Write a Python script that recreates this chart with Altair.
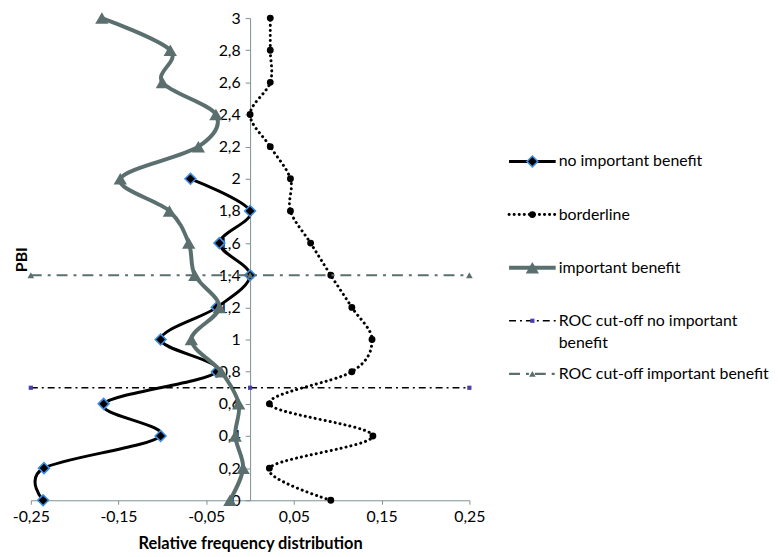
import altair as alt
import pandas as pd

# ---------------- data ----------------
pbi_nib = [0, 0.2, 0.4, 0.6, 0.8, 1.0, 1.2, 1.4, 1.6, 1.8, 2.0]
freq_nib = [-0.236, -0.235, -0.102, -0.167, -0.038, -0.102, -0.038, 0.0, -0.035, 0.0, -0.068]

pbi_all = [0, 0.2, 0.4, 0.6, 0.8, 1.0, 1.2, 1.4, 1.6, 1.8, 2.0, 2.2, 2.4, 2.6, 2.8, 3.0]
freq_border = [0.092, 0.022, 0.140, 0.022, 0.116, 0.139, 0.116, 0.092, 0.069, 0.046,
               0.046, 0.023, 0.0, 0.023, 0.023, 0.023]
freq_ib = [-0.023, -0.008, -0.017, -0.013, -0.033, -0.067, -0.035, -0.063, -0.070, -0.092,
           -0.148, -0.059, -0.039, -0.100, -0.091, -0.169]

roc_x = [-0.25, 0.0, 0.25]
roc_cut_nib = 0.7
roc_cut_ib = 1.4

x_ticks = [-0.25, -0.15, -0.05, 0.05, 0.15, 0.25]
y_ticks = [0, 0.2, 0.4, 0.6, 0.8, 1.0, 1.2, 1.4, 1.6, 1.8, 2.0, 2.2, 2.4, 2.6, 2.8, 3.0]

legend_labels = [
    "no important benefit",
    "borderline",
    "important benefit",
    "ROC cut-off no important\nbenefit",
    "ROC cut-off important benefit",
]

# ---------------- styling ----------------
W, H = 442, 486
FONT = "Lato"
AXIS_COLOR = "#7f9090"
GREY = "#5b6f6f"
BLUE = "#3d8fe6"
PURPLE = "#4a3fb0"

x_axis = alt.Axis(
    values=x_ticks, grid=False, domainColor=AXIS_COLOR, tickColor=AXIS_COLOR,
    tickSize=4, labelFontSize=16, labelColor="black", labelFlush=False,
    labelOverlap=False, labelPadding=4, title="Relative frequency distribution",
    titleFontSize=16.5, titleFontWeight="bold", titleColor="black", titlePadding=12,
    labelExpr="replace(replace(format(datum.value, '.2f'), '.', ','), '\u2212', '-')",
)
y_axis = alt.Axis(
    values=y_ticks, grid=False, domainColor=AXIS_COLOR, tickColor=AXIS_COLOR,
    tickSize=5, labelFontSize=16, labelColor="black", labelFlush=False,
    labelOverlap=False, labelPadding=5, offset=-W / 2,
    title="PBI", titleFontSize=16, titleFontWeight="bold", titleColor="black",
    titleX=-W / 2 - 9, titleY=H / 2, titleAlign="center", titleBaseline="middle",
    titleAngle=-90,
    labelExpr="replace(format(datum.value, '.1~f'), '.', ',')",
)
x_scale = alt.Scale(domain=[-0.25, 0.25], nice=False, zero=False)
y_scale = alt.Scale(domain=[0, 3], nice=False, zero=False)


def X():
    return alt.X("freq:Q", scale=x_scale, axis=x_axis)


def Y():
    return alt.Y("pbi:Q", scale=y_scale, axis=y_axis)


df_nib = pd.DataFrame({"pbi": pbi_nib, "freq": freq_nib})
df_border = pd.DataFrame({"pbi": pbi_all, "freq": freq_border})
df_ib = pd.DataFrame({"pbi": pbi_all, "freq": freq_ib})
df_roc_nib = pd.DataFrame({"freq": roc_x, "pbi": [roc_cut_nib] * len(roc_x)})
df_roc_ib = pd.DataFrame({"freq": roc_x, "pbi": [roc_cut_ib] * len(roc_x)})

styles = [
    dict(line=dict(color="black", strokeWidth=3, interpolate="cardinal"),
         point=dict(shape="diamond", size=120, fill="black", stroke=BLUE, strokeWidth=1.6)),
    dict(line=dict(color="black", strokeWidth=3, strokeDash=[0.1, 5], strokeCap="round",
                   interpolate="cardinal"),
         point=dict(shape="circle", size=48, fill="black", stroke="black", strokeWidth=0)),
    dict(line=dict(color=GREY, strokeWidth=4, interpolate="cardinal"),
         point=dict(shape="triangle-up", size=180, fill=GREY, stroke=GREY, strokeWidth=0)),
    dict(line=dict(color="black", strokeWidth=1.6, strokeDash=[7, 4, 2, 4]),
         point=dict(shape="square", size=18, fill=PURPLE, stroke=PURPLE, strokeWidth=0)),
    dict(line=dict(color=GREY, strokeWidth=2.2, strokeDash=[11, 6, 3, 6]),
         point=dict(shape="triangle-up", size=45, fill=GREY, stroke=GREY, strokeWidth=0)),
]
frames = [df_nib, df_border, df_ib, df_roc_nib, df_roc_ib]

layers = []
for df, st in zip(frames, styles):
    layers.append(
        alt.Chart(df).mark_line(**st["line"]).encode(x=X(), y=Y(), order=alt.Order("pbi:Q"))
    )
    layers.append(
        alt.Chart(df).mark_point(filled=True, opacity=1, fillOpacity=1, strokeOpacity=1,
                                 **st["point"]).encode(x=X(), y=Y())
    )

main = alt.layer(*layers).properties(width=W, height=H)

# ---------------- legend panel ----------------
leg_df = pd.DataFrame({
    "row": list(range(len(legend_labels))),
    "label": legend_labels,
    "x0": [0.0] * len(legend_labels),
    "x1": [1.0] * len(legend_labels),
    "xm": [0.5] * len(legend_labels),
})
lx = alt.Scale(domain=[0, 1], nice=False, zero=False)
ly = alt.Scale(domain=[-2.70, 6.38], nice=False, zero=False, reverse=True)

leg_layers = []
for i, st in enumerate(styles):
    sub = leg_df[leg_df["row"] == i]
    line_kw = {k: v for k, v in st["line"].items() if k != "interpolate"}
    leg_layers.append(
        alt.Chart(sub).mark_rule(**line_kw).encode(
            x=alt.X("x0:Q", scale=lx, axis=None), x2="x1:Q",
            y=alt.Y("row:Q", scale=ly, axis=None))
    )
    leg_layers.append(
        alt.Chart(sub).mark_point(filled=True, opacity=1, fillOpacity=1, strokeOpacity=1,
                                  **st["point"]).encode(
            x=alt.X("xm:Q", scale=lx, axis=None),
            y=alt.Y("row:Q", scale=ly, axis=None))
    )
leg_layers.append(
    alt.Chart(leg_df).mark_text(align="left", baseline="top", dx=3, dy=-8, fontSize=16,
                                lineBreak="\n", lineHeight=22, color="black", font=FONT).encode(
        x=alt.X("x1:Q", scale=lx, axis=None),
        y=alt.Y("row:Q", scale=ly, axis=None),
        text="label:N")
)
legend = alt.layer(*leg_layers).properties(width=47, height=H)

chart = (
    alt.hconcat(main, legend, spacing=40, bounds="flush")
    .properties(padding={"left": 4, "top": 0, "right": 0, "bottom": 0})
    .configure(font=FONT)
    .configure_view(stroke=None)
)

chart.save("out.html", embed_options={"renderer": "svg", "actions": False})
